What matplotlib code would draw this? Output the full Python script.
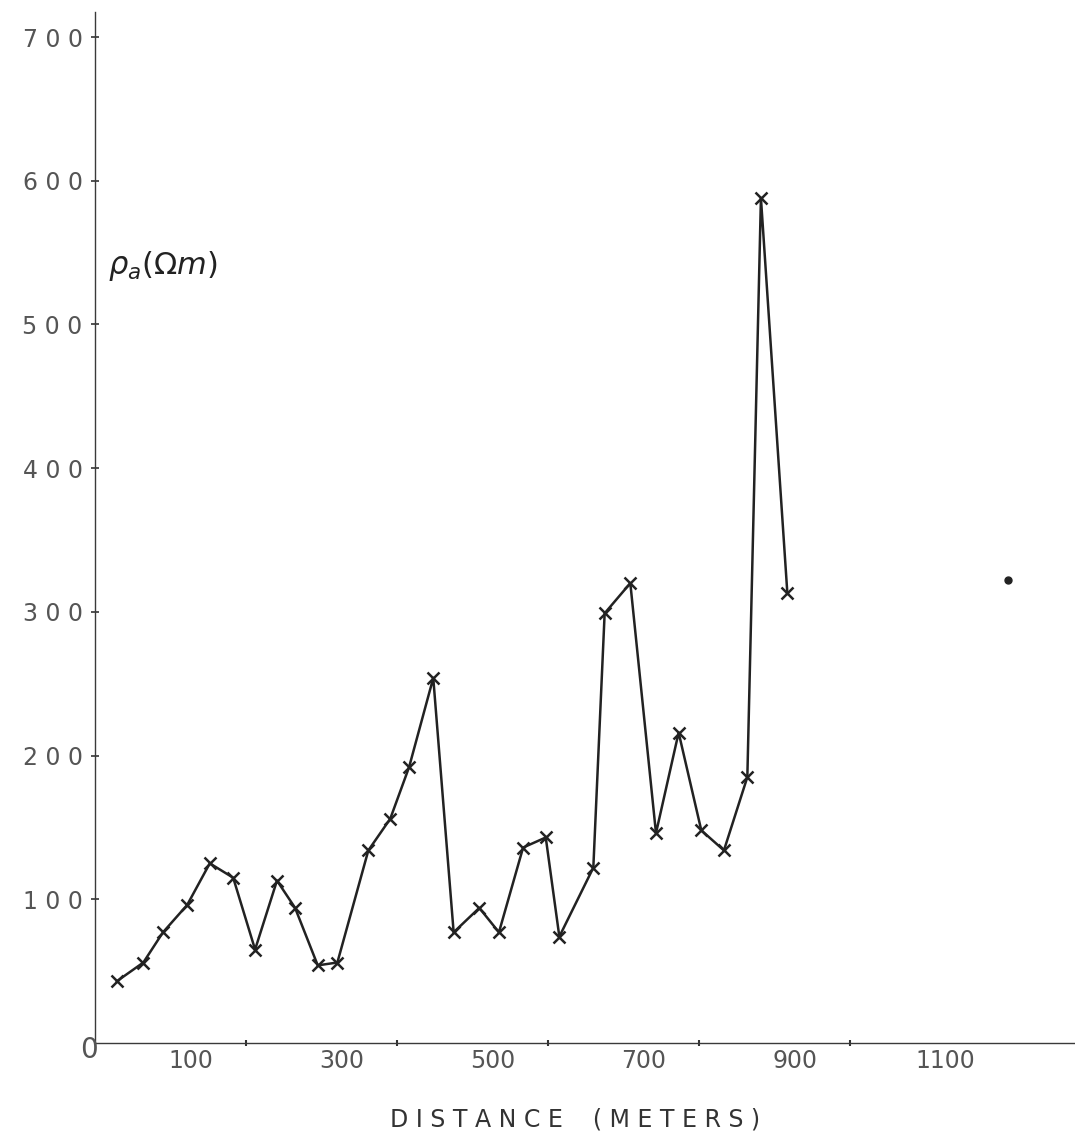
import matplotlib.pyplot as plt
import matplotlib.transforms as mtransforms

# apparent resistivity profile along the line
distance = [29, 64, 90, 122, 152, 183, 212, 241, 265, 295, 321,
            362, 391, 416, 448, 475, 509, 535, 567, 597, 615, 660,
            675, 709, 743, 773, 803, 833, 864, 882, 917]
rho_a = [43, 56, 77, 96, 125, 115, 65, 113, 94, 54, 56,
         134, 156, 192, 254, 77, 94, 77, 136, 143, 74, 122,
         299, 320, 146, 216, 148, 134, 185, 588, 313]

# isolated reading off the end of the line
lone_x = [1209]
lone_y = [322]

y_ticks = [100, 200, 300, 400, 500, 600, 700]
x_ticks = [100, 300, 500, 700, 900, 1100]
x_minor = [200, 400, 600, 800, 1000]

fig = plt.figure(figsize=(10.75, 11.46), dpi=100)
ax = fig.add_axes([0.0884, 0.0899, 0.9116, 0.8997])

ink = '#222222'
label_col = '#555555'

ax.plot(distance, rho_a, color=ink, lw=1.8, marker='x', ms=9, mew=1.8)
ax.plot(lone_x, lone_y, 'o', color=ink, ms=5)

ax.set_xlim(0, 1298)
ax.set_ylim(0, 717.5)

for side in ['top', 'right']:
    ax.spines[side].set_visible(False)
for side in ['left', 'bottom']:
    ax.spines[side].set_color('#3a3a3a')
    ax.spines[side].set_linewidth(1.0)

ax.set_yticks(y_ticks)
ax.set_yticklabels([' '.join(str(v)) for v in y_ticks])
ax.tick_params(axis='y', direction='inout', length=6, width=1.2,
               colors='#333333', labelcolor=label_col, labelsize=17, pad=6)

ax.set_xticks(x_ticks)
ax.set_xticklabels([str(v) for v in x_ticks])
ax.set_xticks(x_minor, minor=True)
ax.tick_params(axis='x', which='major', direction='inout', length=0,
               labelcolor=label_col, labelsize=17, pad=4)
ax.tick_params(axis='x', which='minor', direction='inout', length=4,
               width=1.5, colors='#333333')

# hand-lettered labels sit a little right of their ticks
shift = mtransforms.ScaledTranslation(0.2, 0, fig.dpi_scale_trans)
for lbl in ax.get_xticklabels():
    lbl.set_transform(lbl.get_transform() + shift)

ax.text(4, -5, '0', ha='right', va='center', fontsize=20,
        color=label_col, transform=ax.transData, clip_on=False)

ax.text(17, 541, r'$\rho_a(\Omega m)$', fontsize=22, color=ink,
        ha='left', va='center')

fig.text(575 / 1075, 1 - 1120 / 1146, 'D I S T A N C E    ( M E T E R S )',
         ha='center', va='center', fontsize=17, color='#333333')

fig.savefig('out.png', dpi=100, facecolor='white')
